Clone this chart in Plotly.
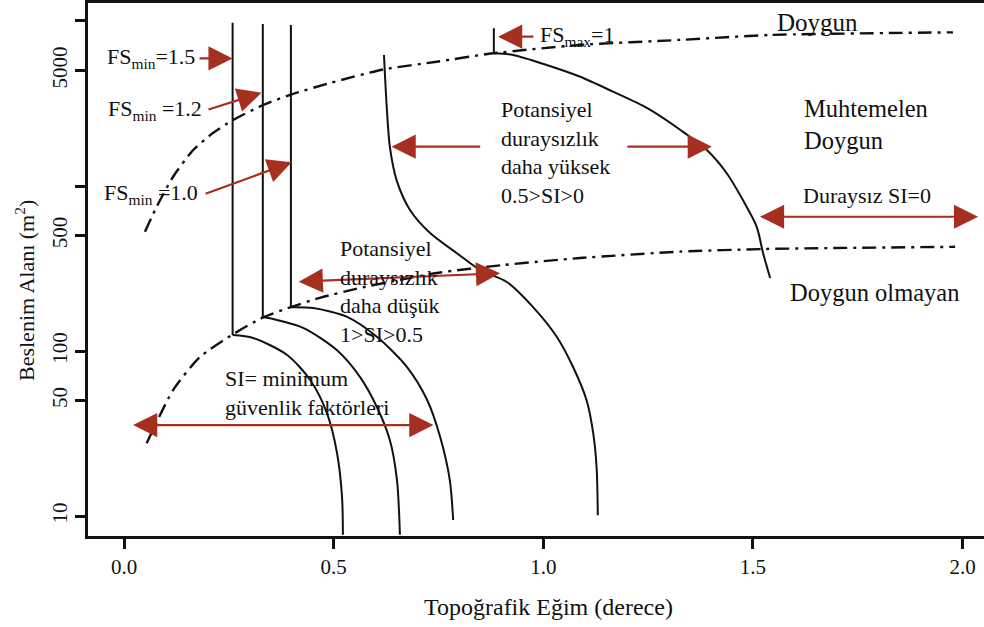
import numpy as np
import plotly.graph_objects as go

# ---------------- data ----------------
x_ticks = [0.0, 0.5, 1.0, 1.5, 2.0]
x_ticktext = ["0.0", "0.5", "1.0", "1.5", "2.0"]
y_ticks = [10, 50, 100, 500, 1000, 5000, 10000]
y_ticktext = ["10", "50", "100", "500", "", "5000", ""]

# saturated boundary (upper dash-dot)
sat_x = [0.050, 0.078, 0.117, 0.165, 0.212, 0.260, 0.332, 0.396, 0.491, 0.620, 0.746, 0.880, 1.088, 1.326, 1.541, 1.977]
sat_y = [528, 750, 1138, 1652, 2094, 2512, 3097, 3565, 4208, 5093, 5665, 6370, 7160, 7680, 8230, 8535]

# unsaturated boundary (lower dash-dot)
unsat_x = [0.054, 0.117, 0.181, 0.257, 0.332, 0.396, 0.467, 0.563, 0.746, 0.904, 1.088, 1.326, 1.524, 1.982]
unsat_y = [27.6, 58, 92, 125, 160, 184, 210, 241, 297, 332, 366, 400, 415, 428]

# FSmin = 1.5
fs15_x = [0.259, 0.259, 0.308, 0.389, 0.444, 0.484, 0.508, 0.520, 0.522]
fs15_y = [9770, 125, 120, 94.6, 66.7, 42, 24.1, 13.0, 7.7]
# FSmin = 1.2
fs12_x = [0.331, 0.331, 0.348, 0.427, 0.508, 0.563, 0.603, 0.634, 0.651, 0.658]
fs12_y = [9590, 161, 158, 138, 101, 69.5, 45.8, 28.9, 16.5, 7.7]
# FSmin = 1.0
fs10_x = [0.398, 0.398, 0.451, 0.532, 0.603, 0.675, 0.723, 0.754, 0.777, 0.785]
fs10_y = [9460, 184, 182, 161, 122, 80, 50.5, 30.1, 16.5, 9.46]
# SI = 0.5 line
si05_x = [0.620, 0.6265, 0.634, 0.650, 0.682, 0.730, 0.793, 0.849, 0.913, 0.975, 1.032, 1.071, 1.103, 1.119, 1.127, 1.130]
si05_y = [6220, 3027, 1730, 1086, 716, 519, 393, 310, 262, 185, 122, 80, 50.5, 31.8, 19.9, 10.1]
# FSmax = 1 (SI = 0)
fsmax_x = [0.882, 0.882, 0.928, 1.008, 1.088, 1.166, 1.247, 1.327, 1.390, 1.437, 1.476, 1.509, 1.524, 1.541]
fsmax_y = [9040, 6370, 6220, 5410, 4590, 3730, 2970, 2185, 1652, 1199, 822, 566, 393, 277]

FONT = "Liberation Serif, Times New Roman, serif"
RED = "#A6301F"
BLACK = "#111111"

fig = go.Figure()

dashdot = "14px,6px,3px,6px"
for xs, ys in [(sat_x, sat_y), (unsat_x, unsat_y)]:
    fig.add_trace(go.Scatter(x=xs, y=ys, mode="lines", line=dict(color=BLACK, width=2.4, dash=dashdot, shape="spline", smoothing=0.6),
                             showlegend=False, hoverinfo="skip"))

for xs, ys in [(fs15_x, fs15_y), (fs12_x, fs12_y), (fs10_x, fs10_y), (fsmax_x, fsmax_y)]:
    # straight vertical part
    fig.add_trace(go.Scatter(x=xs[:2], y=ys[:2], mode="lines", line=dict(color=BLACK, width=2),
                             showlegend=False, hoverinfo="skip"))
    # curved part
    fig.add_trace(go.Scatter(x=xs[1:], y=ys[1:], mode="lines", line=dict(color=BLACK, width=2, shape="spline", smoothing=0.8),
                             showlegend=False, hoverinfo="skip"))

fig.add_trace(go.Scatter(x=si05_x, y=si05_y, mode="lines", line=dict(color=BLACK, width=2, shape="spline", smoothing=0.8),
                         showlegend=False, hoverinfo="skip"))

L = np.log10

def arrow(x0, y0, x1, y1, both=False):
    d = dict(x=x1, y=L(y1), ax=x0, ay=L(y0), xref="x", yref="y", axref="x", ayref="y",
             text="", showarrow=True, arrowhead=2, arrowsize=2.2, arrowwidth=2.2, arrowcolor=RED, standoff=0)
    if both:
        d.update(arrowside="end+start", startarrowhead=2, startarrowsize=2.2, startstandoff=0)
    fig.add_annotation(**d)

arrow(0.1765, 5930, 0.259, 5930)
arrow(0.198, 2890, 0.328, 3675)
arrow(0.191, 891, 0.400, 1393)
arrow(0.980, 8035, 0.892, 8035)
arrow(0.853, 1730, 0.638, 1730)
arrow(1.197, 1730, 1.402, 1730)
arrow(1.513, 651, 2.037, 651, both=True)
arrow(0.413, 263, 0.897, 296, both=True)
arrow(0.018, 35.6, 0.738, 35.6, both=True)

def label(x, y, text, size=22):
    fig.add_annotation(x=x, y=L(y), xref="x", yref="y", text=text, showarrow=False,
                       xanchor="left", yanchor="middle", align="left",
                       font=dict(family=FONT, size=size, color=BLACK))

label(-0.045, 5930, "FS<sub>min</sub>=1.5")
label(-0.043, 2890, "FS<sub>min</sub> =1.2")
label(-0.052, 896, "FS<sub>min</sub> =1.0")
label(0.987, 8110, "FS<sub>max</sub>=1")
label(1.553, 9860, "Doygun", size=25)
label(0.894, 1607, "Potansiyel<br>duraysızlık<br>daha yüksek<br>0.5>SI>0")
label(1.616, 2344, "Muhtemelen<br>Doygun", size=24.5)
label(1.614, 881, "Duraysız SI=0")
label(1.584, 225, "Doygun olmayan", size=24.5)
label(0.510, 228, "Potansiyel<br>duraysızlık<br>daha düşük<br>1>SI>0.5")
label(0.236, 56, "SI= minimum<br>güvenlik faktörleri")

# axis titles
fig.add_annotation(x=0.5145, y=-0.133, xref="paper", yref="paper", text="Topoğrafik Eğim (derece)",
                   showarrow=False, xanchor="center", yanchor="middle", font=dict(family=FONT, size=24, color=BLACK))
fig.add_annotation(x=-0.0703, y=0.4597, xref="paper", yref="paper", text="Beslenim Alanı (m<sup>2</sup>)",
                   showarrow=False, xanchor="center", yanchor="middle", textangle=-90,
                   font=dict(family=FONT, size=22, color=BLACK))

fig.update_layout(
    width=984, height=627,
    margin=dict(l=88, r=0, t=3, b=91),
    paper_bgcolor="white", plot_bgcolor="white",
    showlegend=False,
    font=dict(family=FONT, size=21, color=BLACK),
)
fig.update_xaxes(range=[-0.0859, 2.051], tickvals=x_ticks, ticktext=x_ticktext,
                 showgrid=False, zeroline=False, showline=True, linecolor=BLACK, linewidth=2.5, mirror=True,
                 ticks="outside", ticklen=10, tickwidth=2.5, tickcolor=BLACK, automargin=False,
                 tickfont=dict(family=FONT, size=21, color=BLACK))
fig.update_yaxes(type="log", range=[0.879, 4.109], tickvals=y_ticks, ticktext=y_ticktext,
                 showgrid=False, zeroline=False, showline=True, linecolor=BLACK, linewidth=2.5, mirror=False,
                 ticks="outside", ticklen=10, tickwidth=2.5, tickcolor=BLACK, tickangle=-90, automargin=False,
                 tickfont=dict(family=FONT, size=21, color=BLACK))

fig.write_html("out.html")
